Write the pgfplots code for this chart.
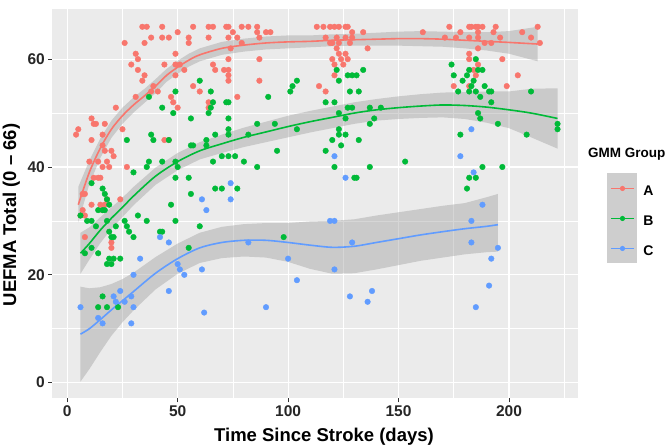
\documentclass[border=0pt]{standalone}
\usepackage{pgfplots}
\pgfplotsset{compat=1.18}
\usepackage{fontspec}
\setmainfont{Liberation Sans}
\definecolor{cA}{HTML}{F8766D}
\definecolor{cB}{HTML}{00BA38}
\definecolor{cC}{HTML}{619CFF}
\definecolor{panel}{HTML}{EBEBEB}
\definecolor{rib}{HTML}{999999}
\definecolor{keybg}{HTML}{CECECE}
\begin{document}
\begin{tikzpicture}
\useasboundingbox (0,0) rectangle (669pt,447pt);
\fill[keybg] (607pt,183.7pt) rectangle (637pt,273.7pt);
\begin{axis}[
  at={(52pt,48.7pt)}, anchor=south west,
  scale only axis, width=526.3pt, height=389.3pt,
  xmin=-6.9, xmax=231.4, ymin=-2.9, ymax=69.3,
  axis background/.style={fill=panel},
  axis line style={draw=none},
  xtick={0,50,100,150,200}, ytick={0,20,40,60},
  minor xtick={25,75,125,175,225}, minor ytick={10,30,50},
  grid=both,
  major grid style={white, line width=1.1pt},
  minor grid style={white, line width=0.55pt},
  tick align=outside, tick pos=left,
  major tick length=4pt, minor tick length=0pt,
  tick style={black!80, line width=0.8pt},
  /pgf/number format/assume math mode=true,
  ticklabel style={font=\fontsize{15.5}{18}\selectfont\bfseries, text=black!85},
  yticklabel style={inner sep=0pt, xshift=-3pt},
  xticklabel style={inner sep=0pt, yshift=-3.4pt},
  xlabel={Time Since Stroke (days)},
  ylabel={UEFMA Total (0 -- 66)},
  label style={font=\fontsize{18.5}{22}\selectfont\bfseries},
  xlabel style={at={(axis description cs:0.5168,-0.1105)}, anchor=base},
  ylabel style={at={(axis description cs:-0.0682,0.471)}, anchor=base},
  legend style={at={(axis description cs:1.0602,0.578)}, anchor=north west,
    draw=none, fill=none, inner sep=0pt, row sep=0pt, column sep=8.5pt,
    nodes={inner sep=0pt}, font=\fontsize{14}{16}\selectfont\bfseries},
  legend image code/.code={
    \path[draw=none, fill=none] (0pt,-12pt) rectangle (23pt,18pt);
    \draw[#1] (0pt,3pt) -- (23pt,3pt);
    \fill[#1, draw=none] (11.5pt,3pt) circle (2.6pt);
  },
]
% ---- points ----
\addplot[forget plot, only marks, mark=*, mark size=2.8pt, color=cA, mark options={draw=none, fill=cA}] coordinates {
(34,66)(36,66)(43,66)(50,65)(57,66)(64,66)(66,66)(72,66)(26,63)(35,63)(38,64)(43,64)(46,64)(55,64)(55,63)(64,64)
(31,61)(32,60)(49,61)(29,59)(32,58)(35,57)(34,56)(44,59)(49,59)(51,59)(53,58)(49,57)(66,59)(67,58)(71,58)(73,57)
(39,55)(41,54)(38,54)(31,53)(47,53)(48,52)(50,51)(57,55)(60,54)(64,51)(64,52)(22,51)(11,49)(12,48)(13,48)(17,48)
(5,47)(4,46)(11,45)(16,46)(16,44)(25,47)(44,45)(46,45)(17,43)(20,43)(21,42)(10,41)(14,41)(16,40)(18,41)(19,40)
(27,40)(12,38)(14,38)(15,38)(8,35)(7,35)(11,33)(15,33)(17,33)(24,34)(18,34)(7,32)(8,31)(6,31)(16,32)(8,27)(20,25)(20,26)
(73,66)(75,65)(79,66)(82,66)(86,66)(86,65)(90,65)(92,65)(87,64)(73,64)(77,64)(79,63)(74,62)(73,60)(87,60)(73,58)
(73,56)(87,56)(77,53)(113,66)(116,66)(119,66)(121,66)(123,66)(126,66)(127,66)(129,65)(117,64)(119,63)(120,63)
(122,64)(123,63)(126,64)(128,63)(129,64)(134,65)(136,62)(122,62)(123,61)(126,61)(127,60)(120,60)(121,59)(121,57)
(114,55)(117,54)(124,60)(125,59)(173,66)(182,66)(183,66)(185,66)(186,66)(188,66)(194,66)(213,66)(161,65)(178,65)
(186,65)(193,65)(171,64)(176,64)(182,64)(186,64)(196,64)(206,65)(210,64)(189,63)(192,63)(214,63)(186,62)(182,61)
(182,60)(197,60)(186,59)(184,58)(185,57)(204,57)(175,55)(182,55)(199,55)
};
\addplot[forget plot, only marks, mark=*, mark size=2.8pt, color=cB, mark options={draw=none, fill=cB}] coordinates {
(60,56)(49,54)(65,54)(37,53)(43,51)(48,50)(66,52)(64,50)(65,51)(56,49)(72,52)(73,52)(73,49)(27,45)(38,46)(39,45)
(46,45)(56,44)(63,44)(57,44)(63,45)(67,46)(73,46)(73,47)(37,41)(36,40)(43,41)(49,41)(50,40)(30,39)(49,38)(55,38)
(66,41)(70,42)(73,42)(67,36)(70,36)(77,36)(56,35)(11,37)(16,36)(17,35)(18,34)(19,33)(14,32)(16,32)(17,32)(6,31)
(9,30)(11,30)(13,29)(18,30)(22,29)(26,30)(27,29)(28,28)(30,27)(32,31)(36,30)(19,28)(20,27)(21,27)(47,33)(49,30)
(42,28)(43,28)(60,29)(55,25)(8,24)(11,25)(14,24)(19,23)(18,22)(20,22)(24,23)(21,23)(98,27)(16,16)(14,14)(18,14)(23,14)
(134,58)(127,57)(129,57)(131,57)(123,56)(122,58)(104,56)(102,55)(101,54)(128,54)(132,54)(91,53)(117,52)(121,52)
(86,48)(94,48)(104,47)(82,46)(123,50)(126,49)(127,51)(129,51)(137,51)(142,51)(139,49)(137,48)(123,47)(123,46)
(126,46)(120,45)(124,44)(132,45)(117,43)(121,40)(95,43)(80,41)(86,40)(76,42)(137,40)(153,41)(130,38)(131,38)
(174,59)(175,57)(179,56)(181,57)(182,58)(184,56)(185,60)(186,58)(188,58)(183,55)(177,54)(182,54)(185,54)(189,55)
(191,54)(192,54)(187,53)(210,54)(192,52)(186,50)(187,49)(195,48)(178,46)(208,46)(222,48)(222,47)(188,40)(197,40)
(182,38)(185,38)(181,36)
};
\addplot[forget plot, only marks, mark=*, mark size=2.8pt, color=cC, mark options={draw=none, fill=cC}] coordinates {
(6,14)(16,11)(14,12)(29,11)(30,14)(29,16)(26,15)(21,16)(24,17)(22,15)(30,20)(33,23)(42,27)(46,26)(46,17)(50,22)
(51,21)(53,20)(61,21)(62,13)(61,34)(63,32)(74,37)(74,34)(82,26)(90,14)(100,23)(104,19)(121,21)(119,30)(121,30)
(129,26)(128,16)(138,17)(136,15)(121,42)(126,38)(183,30)(183,26)(195,25)(192,23)(191,18)(185,14)(183,47)(178,42)
(184,39)(188,33)
};
% ---- group A smooth ----
\addplot[forget plot, draw=none, fill=rib, fill opacity=0.4] coordinates {
(5,36.3)(10,41.2)(15,45.3)(20,48.6)(25,51)(30,52.9)(35,54.5)(40,56.3)(45,58.2)(50,59.7)(55,61)(60,62)(70,63.2)
(80,63.8)(90,64.2)(100,64.4)(110,64.4)(120,64.6)(130,64.7)(140,64.9)(150,65.1)(160,65.2)(170,65.1)(180,65)(190,65)
(200,65.2)(213,66)
(213,59.6)(200,61)(190,61.6)(180,62)(170,62.3)(160,62.4)(150,62.5)(140,62.5)(130,62.5)(120,62.4)(110,62.2)(100,62)
(90,61.8)(80,61.4)(70,60.8)(60,59.6)(55,58.6)(50,57.3)(45,55.8)(40,53.7)(35,51.9)(30,50.1)(25,48)(20,45.4)(15,41.7)
(10,36.8)(5,29.7)
} -- cycle;
\addplot[cA, line width=1.6pt, smooth] coordinates {
(5,33)(10,39)(15,43.5)(20,47)(25,49.5)(30,51.5)(35,53.2)(40,55)(45,57)(50,58.5)(55,59.8)(60,60.8)(70,62)(80,62.6)
(90,63)(100,63.2)(110,63.3)(120,63.5)(130,63.6)(140,63.7)(150,63.8)(160,63.8)(170,63.7)(180,63.5)(190,63.3)(200,63.1)(213,62.8)
};
\addlegendentry{A}
% ---- group B smooth ----
\addplot[forget plot, draw=none, fill=rib, fill opacity=0.4] coordinates {
(6,27.8)(10,28.8)(15,30.7)(20,32.5)(25,34.3)(30,36.3)(40,39.9)(50,42.6)(60,44.6)(70,46)(80,47.3)(90,48.4)(100,49.5)
(110,50.4)(120,51.2)(130,52)(140,52.6)(150,53.1)(160,53.5)(170,53.8)(180,53.9)(190,54)(200,54)(210,54.5)(222,54.6)
(222,43.4)(210,45.5)(200,47.2)(190,48.2)(180,48.9)(170,49.2)(160,49.1)(150,48.9)(140,48.6)(130,48)(120,47.2)(110,46.4)
(100,45.5)(90,44.6)(80,43.7)(70,42.6)(60,41.4)(50,39.4)(40,36.7)(30,32.9)(25,30.7)(20,28.5)(15,25.9)(10,22.8)(6,20.2)
} -- cycle;
\addplot[cB, line width=1.6pt, smooth] coordinates {
(6,24)(10,25.8)(15,28.3)(20,30.5)(25,32.5)(30,34.6)(40,38.3)(50,41)(60,43)(70,44.3)(80,45.5)(90,46.5)(100,47.5)
(110,48.4)(120,49.2)(130,50)(140,50.6)(150,51)(160,51.3)(170,51.5)(180,51.4)(190,51.1)(200,50.6)(210,50)(222,49)
};
\addlegendentry{B}
% ---- group C smooth ----
\addplot[forget plot, draw=none, fill=rib, fill opacity=0.4] coordinates {
(6,17.8)(10,17.5)(15,17.7)(20,18.3)(25,19.2)(30,20.4)(40,23.3)(50,25.8)(60,27.8)(70,28.9)(80,29.4)(90,29.6)(100,29.6)
(110,29.9)(120,30)(130,30.3)(140,31)(150,31.6)(160,32.2)(170,32.8)(180,33.3)(190,34.4)(195,35)
(195,24.3)(190,24.2)(180,23.8)(170,23.2)(160,22.6)(150,21.8)(140,21)(130,20.3)(120,20.2)(110,21.1)(100,22.4)(90,23.2)
(80,23.4)(70,23.1)(60,22.2)(50,20.2)(40,17.3)(30,13.4)(25,11.2)(20,8.7)(15,5.7)(10,2.5)(6,0.2)
} -- cycle;
\addplot[cC, line width=1.6pt, smooth] coordinates {
(6,9)(10,10)(15,11.7)(20,13.5)(25,15.2)(30,16.9)(40,20.3)(50,23)(60,25)(70,26)(80,26.4)(90,26.4)(100,26)(110,25.5)
(120,25.1)(130,25.3)(140,26)(150,26.7)(160,27.4)(170,28)(180,28.55)(190,29)(195,29.3)
};
\addlegendentry{C}
\end{axis}
\node[anchor=base west, inner sep=0pt, font=\fontsize{13.5}{16}\selectfont\bfseries] at (588pt,289pt) {GMM Group};
\end{tikzpicture}
\end{document}
